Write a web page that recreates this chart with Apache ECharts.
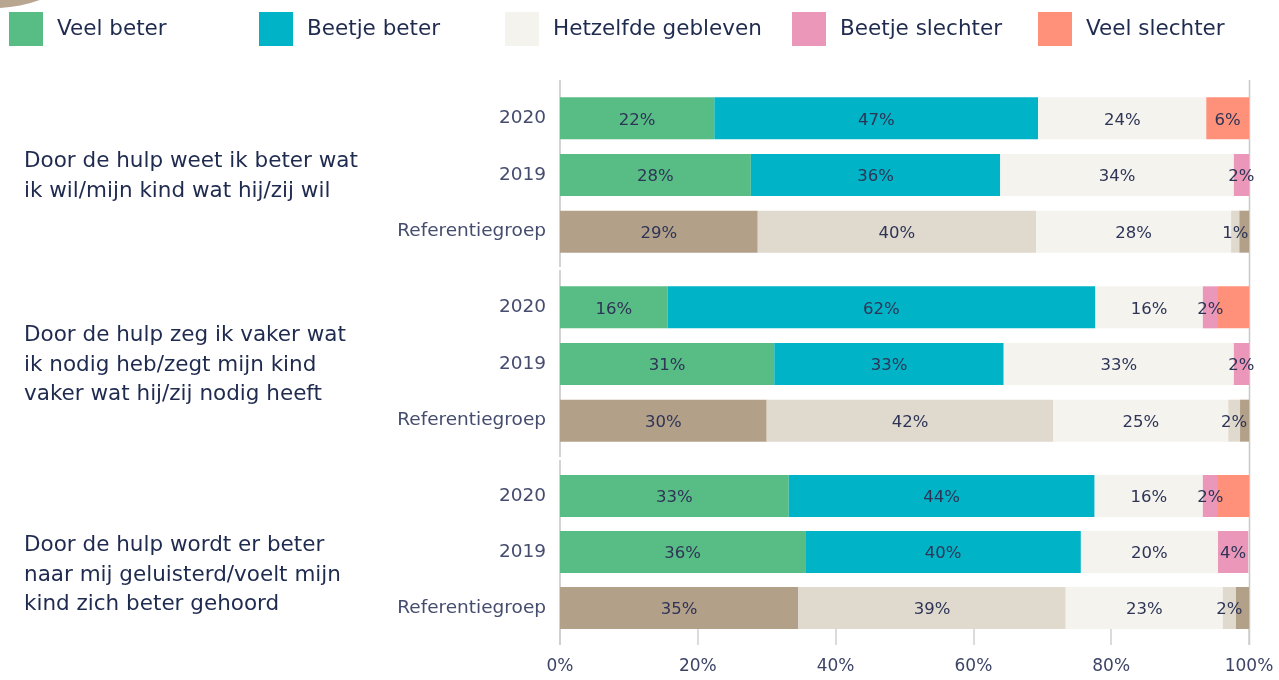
<!DOCTYPE html>
<html><head><meta charset="utf-8">
<script src="https://cdn.jsdelivr.net/npm/echarts@6/dist/echarts.min.js"></script>
<style>html,body{margin:0;padding:0;background:#fff}#c{width:1279px;height:680px}</style>
</head><body><div id="c"></div>
<script>
// ---- data ----
const rowLabels = ['2020', '2019', 'Referentiegroep'];
const questions = [
  'Door de hulp weet ik beter wat\nik wil/mijn kind wat hij/zij wil',
  'Door de hulp zeg ik vaker wat\nik nodig heb/zegt mijn kind\nvaker wat hij/zij nodig heeft',
  'Door de hulp wordt er beter\nnaar mij geluisterd/voelt mijn\nkind zich beter gehoord'
];
const seriesNames = ['Veel beter', 'Beetje beter', 'Hetzelfde gebleven', 'Beetje slechter', 'Veel slechter'];
// values per question: [2020, 2019, Referentiegroep]
const veelBeter      = [[22.4, 27.7, 28.7], [15.6, 31.1, 30.0], [33.2, 35.6, 34.6]];
const beetjeBeter    = [[47.0, 36.2, 40.4], [62.1, 33.3, 41.6], [44.4, 40.0, 38.8]];
const hetzelfde      = [[24.4, 33.9, 28.3], [15.6, 33.4, 25.4], [15.7, 19.9, 22.8]];
const beetjeSlechter = [[0, 2.2, 1.2], [2.2, 2.2, 1.7], [2.2, 4.4, 1.9]];
const veelSlechter   = [[6.2, 0, 1.4], [4.5, 0, 1.3], [4.5, 0, 1.9]];

// ---- styles ----
const colors = ['#58bc85', '#00b3c6', '#f4f3ee', '#eb97b9', '#ff907a'];
const refColors = ['#b3a089', '#e0d9ce', '#f4f3ee', '#e0d9ce', '#b3a089'];
const values = [veelBeter, beetjeBeter, hetzelfde, beetjeSlechter, veelSlechter];
const gridTops = [90, 279, 468];
const gridHeights = [170, 170, 168];
const legendLeft = [9, 259, 505, 792, 1038];
const qTops = [147, 321, 531];

const grids = gridTops.map((t, i) => ({left: 560, width: 689, top: t, height: gridHeights[i]}));
const xAxes = grids.map((g, i) => ({
  type: 'value', gridIndex: i, min: 0, max: 100, interval: 20,
  show: i === 2,
  offset: i === 2 ? -7 : 0,
  axisLine: {show: false},
  axisTick: {show: true, length: 16, lineStyle: {color: '#cfcfcf', width: 1.5}},
  splitLine: {show: false},
  axisLabel: {margin: 29, fontSize: 17, fontFamily: 'DejaVu Sans', color: '#3d4466',
    formatter: v => v + '%'}
}));
const yAxes = grids.map((g, i) => ({
  type: 'category', gridIndex: i, data: rowLabels, inverse: true,
  axisLine: {show: false}, axisTick: {show: false},
  axisLabel: {margin: 14, fontSize: 18.5, fontFamily: 'DejaVu Sans', color: '#454c6e',
    padding: [4, 0, 0, 0]}
}));

const series = [];
for (let g = 0; g < 3; g++) {
  for (let s = 0; s < 5; s++) {
    series.push({
      name: seriesNames[s], type: 'bar', stack: 'q' + g,
      xAxisIndex: g, yAxisIndex: g, barWidth: 42,
      itemStyle: {color: colors[s]},
      label: {
        show: true, position: 'inside', offset: [0, 2], fontSize: 16.5, fontFamily: 'DejaVu Sans', color: '#2d3456',
        formatter: p => {
          if (p.value <= 0) return '';
          if (s === 4 && p.value < 5) return '';
          return Math.round(p.value) + '%';
        }
      },
      data: values[s][g].map((v, k) => k === 2 ? {value: v, itemStyle: {color: refColors[s]}} : v)
    });
  }
}

const legends = seriesNames.map((n, i) => ({
  left: legendLeft[i], top: 12, padding: 0, itemWidth: 34, itemHeight: 34,
  selectedMode: false, icon: 'rect',
  data: [{name: n, icon: 'rect'}],
  textStyle: {fontSize: 21.5, fontFamily: 'DejaVu Sans', color: '#1f2a4f', padding: [0, 0, 7, 9]}
}));

const lineStyle = {stroke: '#d3d3d3', lineWidth: 2};
const graphic = [
  {type: 'circle', shape: {cx: -5, cy: -121, r: 129}, style: {fill: '#b8a690'}},
  {type: 'line', shape: {x1: 560, y1: 80, x2: 560, y2: 267}, style: lineStyle},
  {type: 'line', shape: {x1: 560, y1: 270, x2: 560, y2: 457}, style: lineStyle},
  {type: 'line', shape: {x1: 560, y1: 460, x2: 560, y2: 645}, style: lineStyle},
  {type: 'line', shape: {x1: 1249.5, y1: 80, x2: 1249.5, y2: 645}, style: {stroke: '#c8c8c8', lineWidth: 1.5}}
];
questions.forEach((q, i) => graphic.push({
  type: 'text', left: 24, top: qTops[i],
  style: {text: q, font: '21.5px "DejaVu Sans"', fill: '#1f2a4f', lineHeight: 29.5}
}));

const chart = echarts.init(document.getElementById('c'));
chart.setOption({
  animation: false,
  grid: grids, xAxis: xAxes, yAxis: yAxes,
  legend: legends, series: series, graphic: graphic
});
</script></body></html>
